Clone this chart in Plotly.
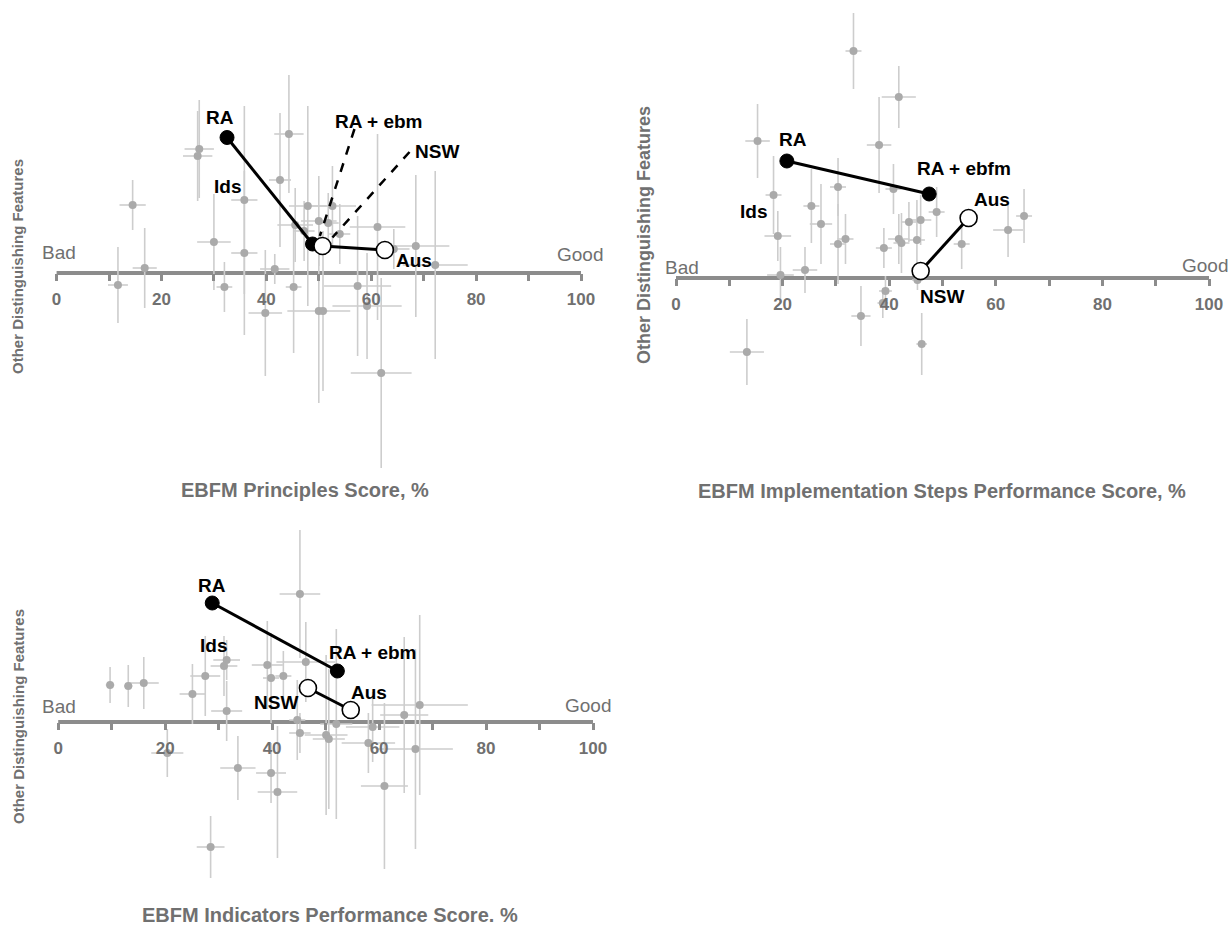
import plotly.graph_objects as go

W, H = 1231, 928

# ---------------- data ----------------
ticks_major = [0, 20, 40, 60, 80, 100]
ticks_minor = [10, 30, 50, 70, 90]

# Panel 1: EBFM Principles Score
p1_x = [27.2, 26.9, 44.3, 42.6, 14.5, 35.8, 30.0, 35.8, 16.8, 11.7, 32.0, 41.6, 45.2, 39.8, 47.9,
        52.6, 50.0, 45.5, 47.2, 51.8, 54.0, 61.2, 68.5, 72.2, 57.4, 59.2, 50.0, 50.8, 61.9, 64.3]
p1_y = [124, 117, 139, 93, 68, 73, 31, 20, 5, -12, -14, 4, -14, -40, 67,
        67, 52, 48, 42, 50, 39, 46, 27, 8, -13, -33, -38, -38, -100, 24]
p1_ex = [2.8, 2.8, 2.8, 2.1, 2.5, 2.5, 3.2, 2.5, 2.3, 1.9, 1.5, 2.8, 1.5, 3.2, 3.6,
         4.5, 3.4, 3.4, 2.0, 2.0, 2.0, 5.3, 6.4, 6.2, 6.4, 6.6, 6.0, 1.0, 5.8, 3.0]
p1_ey = [49, 45, 59, 67, 25, 94, 48, 82, 40, 38, 25, 15, 66, 63, 100,
         40, 45, 37, 30, 30, 30, 93, 71, 94, 70, 53, 92, 80, 95, 20]
p1_names = ["RA", "RA + ebm", "NSW", "Aus"]
p1_hx = [32.5, 48.8, 50.7, 62.6]
p1_hy = [135.5, 29, 27, 23]

# Panel 2: EBFM Implementation Steps Performance Score
p2_x = [33.3, 41.8, 15.3, 38.1, 18.3, 30.4, 40.8, 25.4, 27.2, 19.1, 30.4, 31.8, 39.0, 41.8, 42.3,
        43.7, 45.9, 45.2, 48.9, 53.6, 62.3, 65.3, 24.2, 19.6, 39.3, 38.8, 34.7, 46.1, 13.3, 45.3]
p2_y = [227, 181, 137, 133, 83, 91, 89, 72, 54, 42, 34, 39, 30, 39, 35,
        56, 58, 38, 66, 34, 48, 62, 8, 3, -13, -25, -38, -66, -74, -2]
p2_ex = [1.5, 3.2, 2.3, 2.3, 1.5, 1.5, 1.5, 1.5, 2.1, 2.5, 1.5, 1.5, 1.5, 2.0, 1.5,
         1.5, 2.0, 1.5, 1.5, 1.5, 2.8, 1.5, 2.3, 2.5, 1.2, 1.0, 1.8, 1.0, 3.2, 1.0]
p2_ey = [38, 31, 37, 48, 39, 29, 25, 37, 40, 25, 40, 25, 20, 25, 30,
         20, 25, 40, 25, 25, 27, 27, 23, 28, 15, 15, 30, 31, 33, 10]
p2_names = ["RA", "RA + ebfm", "Aus", "NSW"]
p2_hx = [20.8, 47.5, 54.9, 45.9]
p2_hy = [117, 84, 60, 7]

# Panel 3: EBFM Indicators Performance Score
p3_x = [45.2, 9.7, 13.1, 16.0, 25.1, 27.5, 31.5, 31.0, 31.5, 39.1, 39.8, 42.1, 46.3, 44.7, 45.2,
        50.1, 50.6, 52.0, 58.8, 58.0, 64.7, 67.6, 66.8, 20.4, 33.6, 39.8, 41.0, 61.0, 28.5]
p3_y = [128, 37, 36, 39, 28, 46, 62, 56, 11, 57, 44, 46, 60, 2, -11,
        -13, -17, -2, -5, -21, 7, 17, -27, -31, -46, -51, -70, -64, -125]
p3_ex = [3.8, 0.8, 0.8, 2.8, 2.4, 2.8, 2.5, 2.5, 2.9, 2.9, 1.5, 1.5, 5.5, 1.5, 2.0,
         4.0, 3.0, 3.0, 5.0, 5.0, 4.5, 9.0, 7.0, 3.0, 3.3, 2.8, 3.7, 4.4, 2.6]
p3_ey = [64, 18, 21, 26, 30, 40, 20, 30, 30, 44, 45, 25, 40, 40, 20,
         80, 70, 95, 35, 30, 78, 90, 100, 24, 32, 30, 66, 83, 31]
p3_names = ["RA", "RA + ebm", "NSW", "Aus"]
p3_hx = [28.8, 52.2, 46.7, 54.7]
p3_hy = [119, 51, 34, 12]

titles = ["EBFM Principles Score, %",
          "EBFM Implementation Steps Performance Score, %",
          "EBFM Indicators Performance Score. %"]
ytitle = "Other Distinguishing Features"

# ---------------- styling / layout config ----------------
GRAY_AX = "#8c8c8c"
GRAY_TXT = "#707070"
GRAY_PT = "#aaaaaa"
GRAY_ERR = "#cdcdcd"
FONT = "Liberation Sans, Arial, sans-serif"

# pixel geometry per panel: box, axis 0/100 pixel, axis line pixel
panels = [
    dict(box=(0, 620, 0, 505), x0=56.6, x100=581, line=273),
    dict(box=(630, 1231, 0, 500), x0=676, x100=1209, line=278),
    dict(box=(0, 620, 505, 928), x0=58.2, x100=593, line=722),
]

fig = go.Figure()
layout_axes = {}
annotations = []
shapes = []


def ax_names(i):
    s = "" if i == 0 else str(i + 1)
    return "x" + s, "y" + s, "xaxis" + s, "yaxis" + s


for i, p in enumerate(panels):
    xl, xr, yt, yb = p["box"]
    sc = (p["x100"] - p["x0"]) / 100.0
    xrange = [(xl - p["x0"]) / sc, (xr - p["x0"]) / sc]
    yrange = [p["line"] - yb, p["line"] - yt]
    xn, yn, xk, yk = ax_names(i)
    layout_axes[xk] = dict(domain=[xl / W, xr / W], range=xrange, anchor="free",
                           position=1 - p["line"] / H, showgrid=False, zeroline=False,
                           showline=False, tickmode="array", tickvals=ticks_major,
                           ticks="outside", ticklen=7, tickwidth=3, tickcolor=GRAY_AX,
                           ticklabelstandoff=4,
                           tickfont=dict(family=FONT, size=17, color=GRAY_TXT, weight="bold"),
                           minor=dict(tickmode="array", tickvals=ticks_minor, ticks="outside",
                                      ticklen=7, tickwidth=2.5, tickcolor=GRAY_AX),
                           fixedrange=True)
    layout_axes[yk] = dict(domain=[1 - yb / H, 1 - yt / H], range=yrange, anchor=xn,
                           visible=False, fixedrange=True)
    # main axis line 0..100 at y=0
    shapes.append(dict(type="line", xref=xn, yref=yn, x0=ticks_major[0], x1=ticks_major[-1],
                       y0=0, y1=0, line=dict(color=GRAY_AX, width=4), layer="below"))


def add_gray(i, xs, ys, ex, ey):
    xn, yn, _, _ = ax_names(i)
    fig.add_trace(go.Scatter(x=xs, y=ys, mode="markers", xaxis=xn, yaxis=yn,
                             marker=dict(color=GRAY_PT, size=8),
                             error_x=dict(type="data", array=ex, color=GRAY_ERR, thickness=1.6, width=0),
                             error_y=dict(type="data", array=ey, color=GRAY_ERR, thickness=1.6, width=0),
                             showlegend=False, hoverinfo="skip"))


def add_pair(i, xs, ys, filled):
    xn, yn, _, _ = ax_names(i)
    if filled:
        mk = dict(color="black", size=14, line=dict(color="black", width=1))
    else:
        mk = dict(color="white", size=17, line=dict(color="black", width=1.6))
    fig.add_trace(go.Scatter(x=xs, y=ys, mode="lines+markers", xaxis=xn, yaxis=yn,
                             line=dict(color="black", width=3), marker=mk,
                             showlegend=False, cliponaxis=False))


add_gray(0, p1_x, p1_y, p1_ex, p1_ey)
add_gray(1, p2_x, p2_y, p2_ex, p2_ey)
add_gray(2, p3_x, p3_y, p3_ex, p3_ey)

# panel 1: RA -> RA+ebm (filled), NSW -> Aus (open)
add_pair(0, p1_hx[0:2], p1_hy[0:2], True)
add_pair(0, p1_hx[2:4], p1_hy[2:4], False)
# panel 2: RA -> RA+ebfm (filled), NSW -> Aus (open)
add_pair(1, p2_hx[0:2], p2_hy[0:2], True)
add_pair(1, [p2_hx[3], p2_hx[2]], [p2_hy[3], p2_hy[2]], False)
# panel 3
add_pair(2, p3_hx[0:2], p3_hy[0:2], True)
add_pair(2, p3_hx[2:4], p3_hy[2:4], False)

# dashed leader lines in panel 1 (label -> point)
leaders = [((56.8, 144), (p1_hx[1] + 1.4, p1_hy[1] + 8)),
           ((67.3, 121), (p1_hx[2] + 1.9, p1_hy[2] + 8.5))]
for (a, b) in leaders:
    fig.add_trace(go.Scatter(x=[a[0], b[0]], y=[a[1], b[1]], mode="lines", xaxis="x", yaxis="y",
                             line=dict(color="black", width=2.5, dash="dash"),
                             showlegend=False, hoverinfo="skip"))

# label annotations (text, x, y) per panel
labels = [
    [("RA", 31.1, 156), ("Ids", 32.6, 87), ("RA + ebm", 61.3, 152), ("NSW", 72.5, 122),
     ("Aus", 68.1, 12.5)],
    [("RA", 21.9, 139), ("Ids", 14.5, 67), ("RA + ebfm", 54.0, 110), ("Aus", 59.3, 79),
     ("NSW", 49.9, -18.4)],
    [("RA", 28.8, 137), ("Ids", 29.0, 77), ("RA + ebm", 58.8, 70), ("Aus", 58.1, 30),
     ("NSW", 40.7, 20)],
]
for i, lab in enumerate(labels):
    xn, yn, _, _ = ax_names(i)
    for t, x, y in lab:
        annotations.append(dict(text=t, x=x, y=y, xref=xn, yref=yn, showarrow=False,
                                font=dict(family=FONT, size=19, color="black", weight="bold")))

# Bad / Good labels (paper pixel positions)
badgood = [((58.6, 252), (580, 255)), ((682, 267), (1205, 265)), ((58.6, 706), (588, 705))]
for (b, g) in badgood:
    for t, (px, py) in (("Bad", b), ("Good", g)):
        annotations.append(dict(text=t, x=px / W, y=1 - py / H, xref="paper", yref="paper",
                                showarrow=False, xanchor="center", yanchor="middle",
                                font=dict(family=FONT, size=19, color=GRAY_TXT)))

# x titles
title_pos = [(305, 490), (942, 491), (330, 915)]
for t, (px, py) in zip(titles, title_pos):
    annotations.append(dict(text=t, x=px / W, y=1 - py / H, xref="paper", yref="paper",
                            showarrow=False, xanchor="center", yanchor="middle",
                            font=dict(family=FONT, size=20, color=GRAY_TXT, weight="bold")))

# y titles
ytitle_pos = [(17, 267, 15), (644, 235, 18), (18, 717, 15)]
for (px, py, fs) in ytitle_pos:
    annotations.append(dict(text=ytitle, x=px / W, y=1 - py / H, xref="paper", yref="paper",
                            showarrow=False, textangle=-90, xanchor="center", yanchor="middle",
                            font=dict(family=FONT, size=fs, color=GRAY_TXT, weight="bold")))

fig.update_layout(width=W, height=H, margin=dict(l=0, r=0, t=0, b=0),
                  paper_bgcolor="white", plot_bgcolor="white",
                  annotations=annotations, shapes=shapes, showlegend=False,
                  **layout_axes)

fig.write_html("out.html", config=dict(displayModeBar=False),
               post_script="document.body.style.margin='0';")
